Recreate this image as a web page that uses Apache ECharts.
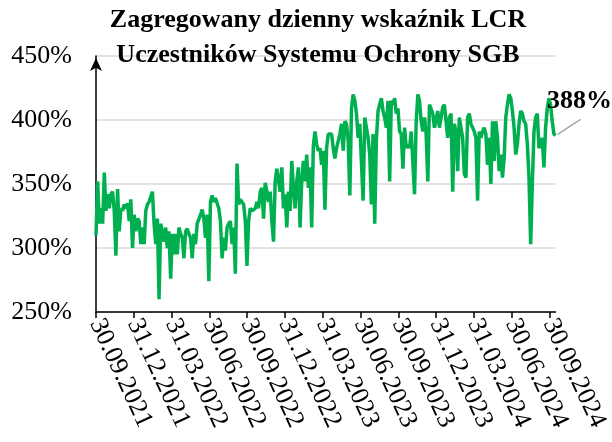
<!DOCTYPE html>
<html>
<head>
<meta charset="utf-8">
<script src="https://cdn.jsdelivr.net/npm/echarts@6/dist/echarts.min.js"></script>
<style>
  html, body { margin: 0; padding: 0; background: #fff; }
  #chart { width: 612px; height: 442px; }
</style>
</head>
<body>
<div id="chart"></div>
<script>
// quarter-end tick labels
var quarterLabels = [
  "30.09.2021", "31.12.2021", "31.03.2022", "30.06.2022", "30.09.2022",
  "31.12.2022", "31.03.2023", "30.06.2023", "30.09.2023", "31.12.2023",
  "31.03.2024", "30.06.2024", "30.09.2024"
];

// LCR in % (~every 1.7 px)
// 09.2021 - ~12.2022
var lcrPart1 = [310, 352, 319, 331, 319, 359, 329, 342, 331, 342, 344, 329, 294, 346, 313, 331, 329, 334, 331, 335,
  321, 338, 300, 326, 313, 323, 321, 303, 316, 303, 329, 334, 336, 336, 344, 319, 303, 323, 260, 319,
  319, 305, 316, 300, 313, 276, 311, 295, 311, 295, 316, 311, 308, 292, 313, 315, 311, 308, 292, 311,
  303, 319, 319, 326, 330, 323, 308, 326, 274, 336, 341, 336, 339];
// ~12.2022 - ~03.2023
var lcrPart2 = [335, 331, 321, 292, 308, 298, 316, 319, 321, 303, 316, 280, 366, 334, 338, 339, 334, 321, 286, 321,
  331, 329, 330, 331, 336, 331, 344, 347, 323, 351, 344, 336, 344, 321, 305, 352, 362, 361, 344, 363,
  331, 342, 316, 344, 329, 368, 347, 331, 352, 363, 316, 352, 368, 352, 373, 347, 363, 316, 380, 391,
  381, 376, 378, 365, 376, 330, 378, 389, 390, 389, 378, 370, 378];
// ~03.2023 - ~03.2024
var lcrPart3 = [378, 389, 397, 376, 399, 397, 384, 341, 409, 420, 415, 405, 386, 397, 397, 337, 402, 402, 386, 373,
  334, 389, 319, 384, 407, 407, 417, 407, 402, 394, 415, 352, 415, 412, 417, 405, 409, 391, 389, 362,
  394, 378, 381, 378, 391, 391, 342, 399, 420, 415, 399, 391, 402, 389, 352, 412, 412, 405, 394, 394,
  407, 394, 402, 410, 412, 399, 386, 402, 405, 344, 397];
// ~03.2024 - 09.2024
var lcrPart4 = [391, 360, 402, 401, 386, 358, 355, 402, 405, 397, 394, 391, 386, 337, 391, 386, 391, 394, 389, 365,
  386, 350, 399, 368, 399, 386, 360, 373, 355, 370, 402, 412, 420, 417, 407, 394, 373, 381, 397, 407,
  405, 399, 397, 381, 355, 303, 350, 391, 402, 405, 378, 381, 386, 363, 394, 409, 417, 412, 399, 389,
  388];

var lcrValues = lcrPart1.concat(lcrPart2, lcrPart3, lcrPart4);
var lastQuarter = 12.16; // the line runs a bit past the last tick
var tickQuarters = quarterLabels.map(function (l, i) { return i; });

var seriesData = lcrValues.map(function (v, i) {
  return { value: [i * lastQuarter / (lcrValues.length - 1), v] };
});
var lastPoint = seriesData[seriesData.length - 1];
lastPoint.label = { show: true };

var serif = "Liberation Serif";
var chart = echarts.init(document.getElementById("chart"));

chart.setOption({
  animation: false,
  title: {
    text: "Zagregowany dzienny wskaźnik LCR\nUczestników Systemu Ochrony SGB",
    left: 318,
    top: 3,
    padding: 0,
    textAlign: "center",
    textStyle: {
      fontFamily: serif,
      fontWeight: "bold",
      fontSize: 26,
      lineHeight: 35,
      color: "#000"
    }
  },
  grid: { left: 96, right: 54, top: 56, bottom: 130 },
  xAxis: {
    type: "value",
    min: 0,
    max: lastQuarter,
    splitLine: { show: false },
    axisLine: { lineStyle: { color: "#000", width: 1.5 } },
    axisTick: {
      show: true,
      length: 6,
      customValues: tickQuarters,
      lineStyle: { color: "#000", width: 1.5 }
    },
    axisLabel: {
      customValues: tickQuarters,
      rotate: -65,
      margin: 8,
      fontFamily: serif,
      fontSize: 26,
      color: "#000",
      formatter: function (v) { return quarterLabels[Math.round(v)] || ""; }
    }
  },
  yAxis: {
    type: "value",
    min: 250,
    max: 450,
    interval: 50,
    axisLine: {
      show: true,
      symbol: ["none", "arrow"],
      symbolSize: [9, 13],
      symbolOffset: [0, -2],
      lineStyle: { color: "#000", width: 1.5 }
    },
    axisTick: { show: false },
    splitLine: { lineStyle: { color: "#D9D9D9", width: 1.5 } },
    axisLabel: {
      margin: 24,
      fontFamily: serif,
      fontSize: 26,
      color: "#000",
      formatter: "{value}%"
    }
  },
  series: [
    {
      type: "line",
      data: seriesData,
      showSymbol: true,
      symbol: "circle",
      symbolSize: 0,
      lineStyle: { color: "#00B050", width: 3.5 },
      itemStyle: { color: "#00B050" },
      label: {
        show: false,
        position: "top",
        fontFamily: serif,
        fontWeight: "bold",
        fontSize: 26,
        color: "#000",
        formatter: function (p) { return p.value[1] + "%"; }
      },
      labelLayout: { dx: 24, dy: -16 }
    }
  ]
});

// grey leader line from the last point up-right towards its label
var p = chart.convertToPixel({ gridIndex: 0 }, lastPoint.value);
chart.setOption({
  graphic: [{
    type: "line",
    shape: { x1: p[0] + 2, y1: p[1] - 1, x2: p[0] + 25, y2: p[1] - 16 },
    style: { stroke: "#A6A6A6", lineWidth: 1.5 },
    z: 10
  }]
});
</script>
</body>
</html>
